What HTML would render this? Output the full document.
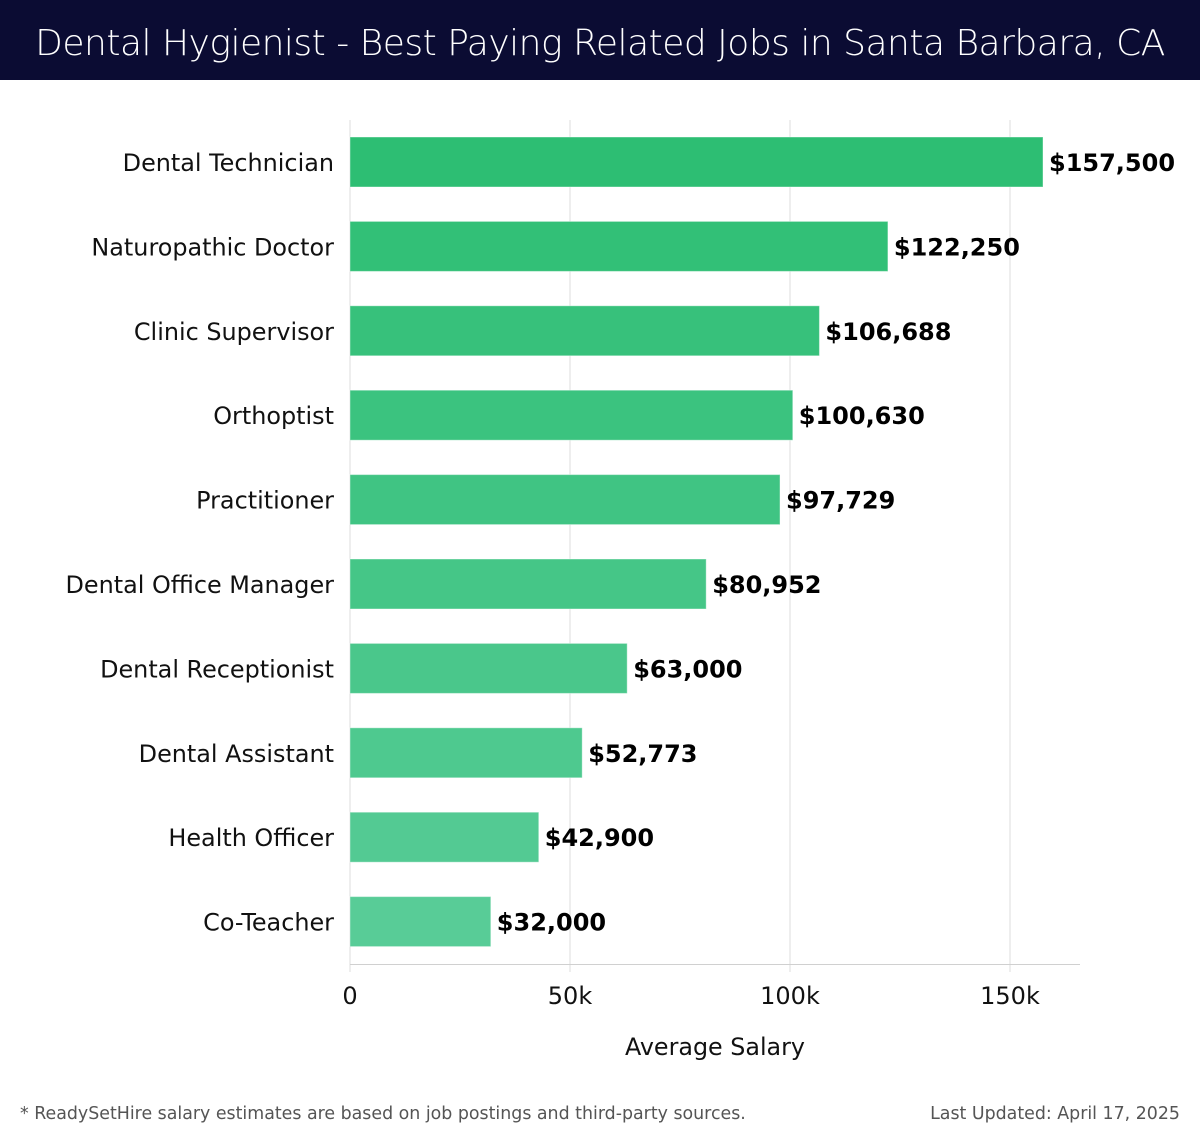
<!DOCTYPE html>
<html><head><meta charset="utf-8"><style>
body{margin:0;width:1200px;height:1140px;background:#fff;overflow:hidden;font-family:"DejaVu Sans","Liberation Sans",sans-serif}
#title{position:absolute;left:0;top:0;width:1200px;height:80px;background:#0b0c33;color:#fff;font-size:36px;line-height:88px;text-align:center;font-family:"DejaVu Sans","Liberation Sans",sans-serif;font-weight:300;letter-spacing:-0.5px}
</style></head><body>
<div id="title">Dental Hygienist - Best Paying Related Jobs in Santa Barbara, CA</div>
<svg id="chart" width="1200" height="1140" style="position:absolute;left:0;top:0"></svg>
<script>
const categories=["Dental Technician","Naturopathic Doctor","Clinic Supervisor","Orthoptist","Practitioner","Dental Office Manager","Dental Receptionist","Dental Assistant","Health Officer","Co-Teacher"];
const values=[157500,122250,106688,100630,97729,80952,63000,52773,42900,32000];
const valueLabels=["$157,500","$122,250","$106,688","$100,630","$97,729","$80,952","$63,000","$52,773","$42,900","$32,000"];
const ticks=[0,50000,100000,150000];
const tickLabels=["0","50k","100k","150k"];
const svg=document.getElementById('chart');
const NS="http://www.w3.org/2000/svg";
const x0=350,pxPer=220/50000;
const xs=v=>x0+v*pxPer;
const bandTop=137,step=84.4,barH=50;
function mk(t,a,txt){const e=document.createElementNS(NS,t);for(const k in a)e.setAttribute(k,a[k]);if(txt!==undefined)e.textContent=txt;svg.appendChild(e);return e;}
ticks.forEach((t,i)=>{
 const g=mk('line',{x1:xs(t),x2:xs(t),y1:120,y2:972,stroke:'#dcdcdc','stroke-width':1});
 
 
 const l=mk('text',{x:xs(t),y:1004,'font-size':24,'text-anchor':'middle',fill:'#111'},tickLabels[i]);
 
 
});
const ax=mk('line',{x1:350,x2:1080,y1:964.5,y2:964.5,stroke:'#d0d0d0','stroke-width':1});


function col(i){const n=categories.length-1,f=i/n;const a=[45,190,115],b=[88,204,151];return `rgb(${a.map((c,k)=>Math.round(c+(b[k]-c)*f)).join(',')})`;}
categories.forEach((c,i)=>{
 const y=bandTop+i*step;
 const r=mk('rect',{x:x0,y:y,width:xs(values[i])-x0,height:barH,fill:col(i),stroke:'rgba(255,255,255,0.4)','stroke-width':1});
 
 
 const t=mk('text',{x:334,y:y+34,'font-size':23.9,'text-anchor':'end',fill:'#111'},c);
 
 
 const v=mk('text',{x:xs(values[i])+6,y:y+34,'font-size':24,'font-weight':'bold',fill:'#000'},valueLabels[i]);
 
 
});
const xt=mk('text',{x:715,y:1055,'font-size':23.8,'text-anchor':'middle',fill:'#111'},'Average Salary');


const fn=mk('text',{x:20,y:1119,'font-size':17.4,fill:'#555'},'* ReadySetHire salary estimates are based on job postings and third-party sources.');


const lu=mk('text',{x:1180,y:1119,'font-size':17.4,'text-anchor':'end',fill:'#555'},'Last Updated: April 17, 2025');


</script>
</body></html>
